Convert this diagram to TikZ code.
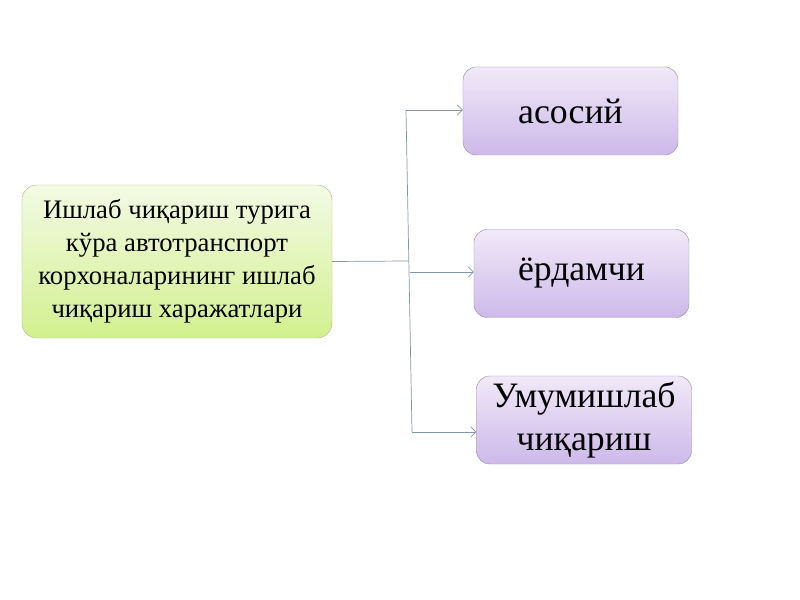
\documentclass[tikz,border=0pt]{standalone}
\usepackage{fontspec}
\setmainfont{Liberation Serif}
\usetikzlibrary{positioning}
\usetikzlibrary{arrows.meta}

\definecolor{linecol}{HTML}{8396AE}
\definecolor{greentop}{HTML}{F3FAE3}
\definecolor{greenbot}{HTML}{D2F08E}
\definecolor{greenline}{HTML}{AFC08C}
\definecolor{purptop}{HTML}{F1E9F8}
\definecolor{purpbot}{HTML}{CDB9EA}
\definecolor{purpline}{HTML}{9F93AD}

\begin{document}
\begin{tikzpicture}[x=0.03cm,y=-0.03cm,
        mainbox/.style={rectangle,rounded corners=0.45cm,draw=greenline,
            top color=greentop,bottom color=greenbot,
            minimum width=9.3cm,minimum height=4.59cm,align=center,
            font=\fontsize{22.8}{28.3}\selectfont},
        kindbox/.style={rectangle,rounded corners=0.4cm,draw=purpline,
            top color=purptop,bottom color=purpbot,
            minimum width=6.45cm,minimum height=2.64cm,align=center,
            font=\fontsize{30.5}{36}\selectfont},
        conn/.style={draw=linecol,line width=0.6pt}]
        \useasboundingbox (0,0) rectangle (800,600);

        \node[mainbox] (main) at (177,261.5) {Ишлаб чиқариш турига\\кўра автотранспорт\\корхоналарининг ишлаб\\чиқариш харажатлари};
        \node[kindbox] (asos) at (570.5,111) {асосий};
        \node[kindbox] (yord) at (581.5,273.5) {ёрдамчи};
        \node[kindbox] (umum) at (584,420) {Умумишлаб\\чиқариш};

        \coordinate (fork) at (408,261);
        \coordinate (ftop) at (406,110);
        \coordinate (fmid) at (410,272);
        \coordinate (fbot) at (412,432);

        \path[conn] (main.east) -- (fork);
        \path[conn] (ftop) -- (fbot);
        \path[conn,-{Straight Barb[length=1.5mm]}] (ftop) -- (ftop -| asos.west);
        \path[conn,-{Straight Barb[length=1.5mm]}] (fmid) -- (fmid -| yord.west);
        \path[conn,-{Straight Barb[length=1.5mm]}] (fbot) -- (fbot -| umum.west);
    \end{tikzpicture}
\end{document}
